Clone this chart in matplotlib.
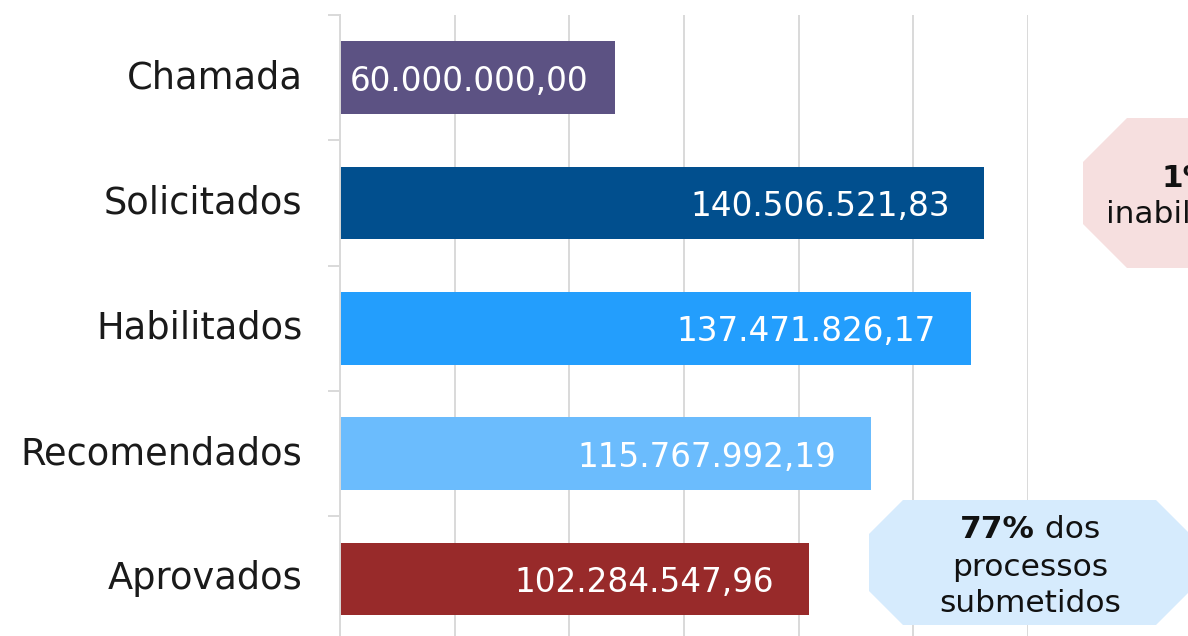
import numpy as np
import matplotlib.pyplot as plt
from matplotlib.patches import Polygon

categorias = ['Chamada', 'Solicitados', 'Habilitados', 'Recomendados', 'Aprovados']
valores = [60000000.00, 140506521.83, 137471826.17, 115767992.19, 102284547.96]
cores = ['#5c5283', '#014f8e', '#239efd', '#6bbcfd', '#982a2a']


def fmt_br(v):
    return f"{v:,.2f}".replace(",", "X").replace(".", ",").replace("X", ".")


W, H = 1188, 636
fig = plt.figure(figsize=(W / 100, H / 100), dpi=100)
ax = fig.add_axes([340 / W, 1 - 641.5 / H, (1028 - 340) / W, 626.5 / H])

pos = np.arange(len(categorias))
bars = ax.barh(pos, valores, height=0.58, color=cores, zorder=2)
ax.set_xlim(0, 150e6)
ax.set_ylim(len(categorias) - 0.5, -0.5)
ax.set_xticks(np.arange(0, 150e6 + 1, 25e6))
ax.xaxis.grid(True, color='#d9d9d9', lw=1.4)
ax.set_axisbelow(True)
ax.tick_params(axis='x', length=0, labelbottom=False)

ax.set_yticks(pos)
ax.set_yticklabels(categorias, fontsize=26.5, color='#1a1a1a')
for lbl in ax.get_yticklabels():
    lbl.set_va('center')
ax.set_yticks(np.arange(-0.5, len(categorias)), minor=True)
ax.tick_params(axis='y', which='major', length=0, pad=27)
ax.tick_params(axis='y', which='minor', length=8.6, width=1.4, color='#d9d9d9')
for s in ['top', 'right', 'bottom']:
    ax.spines[s].set_visible(False)
ax.spines['left'].set_color('#d9d9d9')
ax.spines['left'].set_linewidth(1.4)

r = fig.canvas.get_renderer()

# rotulos de valor dentro das barras
for i, (b, v) in enumerate(zip(bars, valores)):
    t = ax.annotate(fmt_br(v), xy=(v, i), xytext=(-25, 0), textcoords='offset points',
                    ha='right', va='center_baseline', color='white', fontsize=23.5, zorder=3)
    if t.get_window_extent(r).x0 < b.get_window_extent(r).x0 + 5:
        t.remove()
        t = ax.annotate(fmt_br(v), xy=(0, i), xytext=(7, 0), textcoords='offset points',
                        ha='left', va='center_baseline', color='white', fontsize=23.5, zorder=3)
        t.set_clip_path(b)


def fx(x):
    return x / W


def fy(y):
    return 1 - y / H


def octagon(x0, y0, x1, y1, c, color):
    pts = [(x0 + c, y0), (x1 - c, y0), (x1, y0 + c), (x1, y1 - c),
           (x1 - c, y1), (x0 + c, y1), (x0, y1 - c), (x0, y0 + c)]
    p = Polygon([(fx(a), fy(b)) for a, b in pts], closed=True, fc=color, ec='none',
                transform=fig.transFigure, zorder=5)
    fig.add_artist(p)


def linha(cx, cy, negrito, resto, fs=22.5):
    tb = fig.text(0, fy(cy), negrito, fontsize=fs, weight='bold', color='#111111',
                  ha='left', va='center_baseline', zorder=6)
    tr = fig.text(0, fy(cy), resto, fontsize=fs, color='#111111',
                  ha='left', va='center_baseline', zorder=6)
    wb = tb.get_window_extent(r).width if negrito else 0
    wr = tr.get_window_extent(r).width if resto else 0
    x0 = cx - (wb + wr) / 2
    tb.set_x(fx(x0))
    tr.set_x(fx(x0 + wb))


octagon(1083, 118, 1403, 268, 44, '#f6dfdf')
linha(1188, 176, '1%', '')
linha(1188, 212, '', 'inabilitado')

octagon(869, 500, 1190, 625, 34, '#d6ebfd')
linha(1030, 526, '77%', ' dos')
linha(1030, 564, '', 'processos')
linha(1030, 601, '', 'submetidos')

fig.savefig('out.png', dpi=100)
